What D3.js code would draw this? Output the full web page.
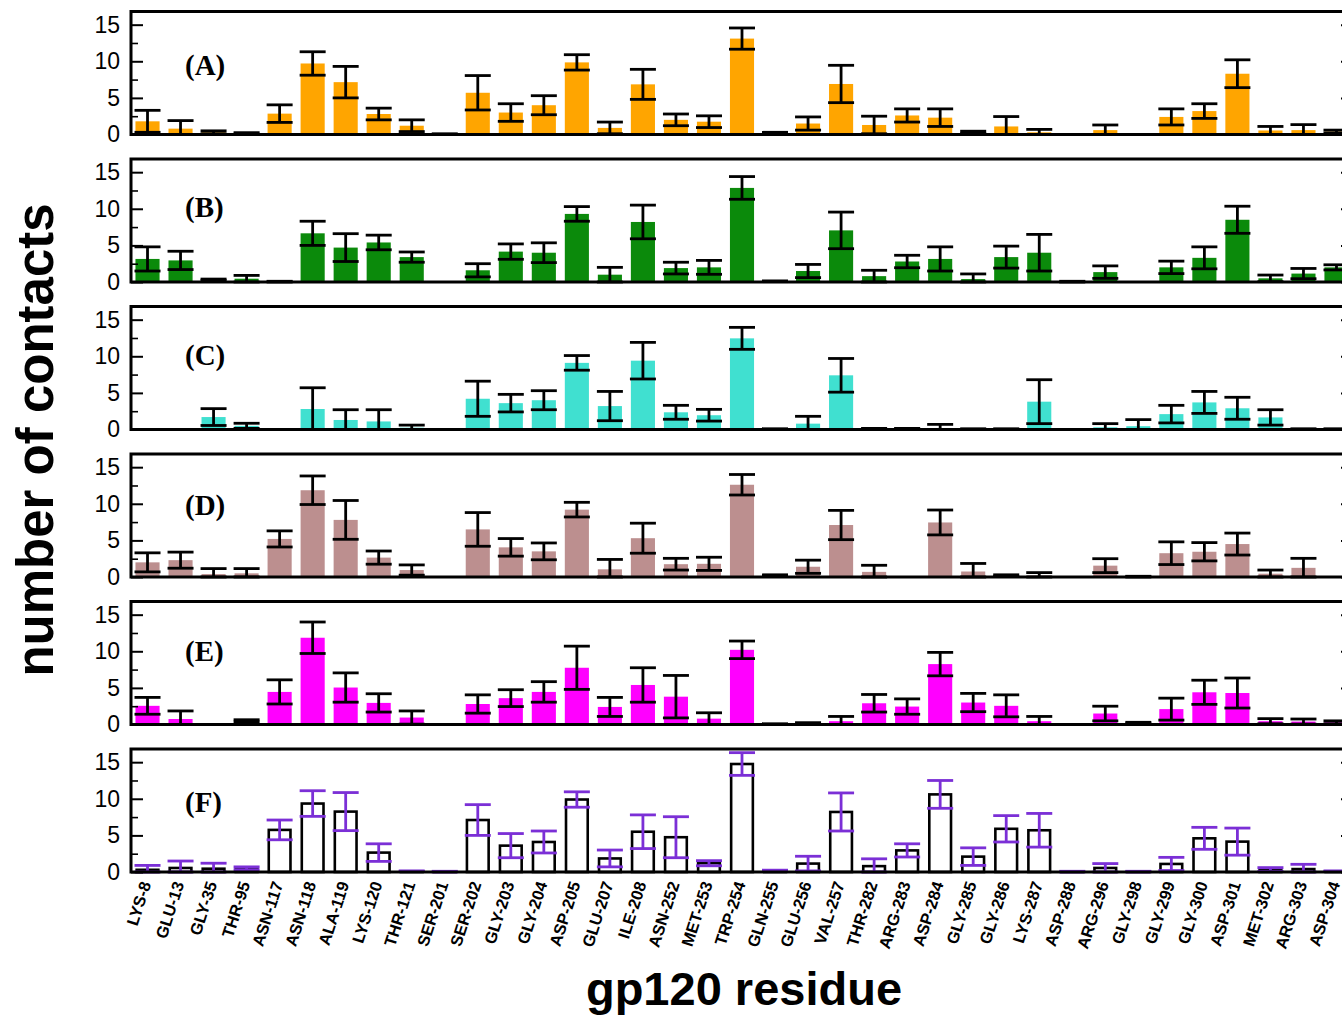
<!DOCTYPE html>
<html><head><meta charset="utf-8">
<script src="https://cdn.jsdelivr.net/npm/d3@7"></script>
<style>body{margin:0;background:#fff}svg{display:block}</style>
</head><body>
<svg id="c" width="1342" height="1018"></svg>
<script>
const residues = ["LYS-8","GLU-13","GLY-35","THR-95","ASN-117","ASN-118","ALA-119","LYS-120","THR-121","SER-201","SER-202","GLY-203","GLY-204","ASP-205","GLU-207","ILE-208","ASN-252","MET-253","TRP-254","GLN-255","GLU-256","VAL-257","THR-282","ARG-283","ASP-284","GLY-285","GLY-286","LYS-287","ASP-288","ARG-296","GLY-298","GLY-299","GLY-300","ASP-301","MET-302","ARG-303","ASP-304"];
const panelLabels = ["(A)","(B)","(C)","(D)","(E)","(F)"];
const yTicks = [0,5,10,15];
const yMinorTicks = [2.5,7.5,12.5];

const meanA = [1.8,0.8,0.3,0.15,2.85,9.7,7.15,2.8,1.2,0.05,5.7,3.0,4.0,9.85,0.9,6.85,2.0,1.75,13.1,0.2,1.5,6.9,1.3,2.6,2.3,0.3,1.1,0.3,0,0.6,0,2.4,3.2,8.3,0.55,0.6,0.4];
const errA  = [1.5,1.1,0.2,0.1,1.2,1.6,2.15,0.8,0.8,0.05,2.35,1.2,1.3,1.05,0.8,2.05,0.8,0.8,1.45,0.1,0.9,2.55,1.2,0.9,1.2,0.15,1.35,0.4,0,0.7,0,1.1,1.0,1.9,0.55,0.75,0.2];
const meanB = [3.15,2.95,0.3,0.45,0.05,6.65,4.7,5.4,3.4,0,1.6,4.15,4.0,9.3,1.0,8.2,1.9,2.0,12.85,0.1,1.5,7.05,0.8,2.8,3.15,0.4,3.4,4.0,0.05,1.35,0,2.0,3.3,8.5,0.5,1.15,2.0];
const errB  = [1.65,1.25,0.1,0.45,0.05,1.65,1.9,1.0,0.7,0,0.9,1.05,1.35,1.0,1.0,2.3,0.8,0.95,1.55,0.05,0.9,2.5,0.8,0.85,1.65,0.7,1.5,2.5,0.05,0.85,0,0.85,1.5,1.85,0.45,0.7,0.35];
const meanC = [0,0,1.7,0.5,0,2.8,1.3,1.1,0.25,0,4.2,3.6,4.0,9.1,3.2,9.4,2.35,1.95,12.45,0.05,0.8,7.4,0.1,0.1,0.2,0.05,0.05,3.8,0,0.3,0.45,2.1,3.7,2.9,1.65,0.05,0.05];
const errC  = [0,0,1.15,0.35,0,2.9,1.4,1.6,0.35,0,2.4,1.2,1.3,1.0,2.0,2.5,0.95,0.8,1.5,0.05,1.0,2.3,0.05,0.05,0.5,0.05,0.05,3.0,0,0.5,0.9,1.2,1.5,1.5,1.05,0.05,0.05];
const meanD = [2.0,2.3,0.4,0.5,5.2,11.85,7.8,2.65,0.95,0,6.5,4.05,3.5,9.2,1.05,5.3,1.75,1.8,12.6,0.2,1.4,7.1,0.7,0,7.45,0.75,0.2,0.2,0,1.55,0.05,3.25,3.45,4.5,0.45,1.25,0];
const errD  = [1.3,1.1,0.75,0.65,1.1,1.95,2.65,0.9,0.7,0,2.3,1.2,1.15,1.0,1.35,2.05,0.8,0.9,1.4,0.1,0.9,2.0,0.9,0,1.7,1.1,0.1,0.4,0,0.95,0.05,1.55,1.25,1.5,0.5,1.3,0];
const meanE = [2.55,0.75,0,0.5,4.45,11.85,5.05,2.95,0.95,0,2.8,3.6,4.45,7.75,2.4,5.4,3.8,0.8,10.2,0.05,0.15,0.45,2.9,2.45,8.25,3.0,2.55,0.45,0,1.5,0.2,2.1,4.4,4.3,0.45,0.4,0.3];
const errE  = [1.15,1.1,0,0.15,1.65,2.15,2.0,1.25,0.9,0,1.25,1.15,1.4,2.95,1.3,2.35,2.9,0.8,1.2,0.05,0.1,0.65,1.2,1.05,1.6,1.25,1.5,0.65,0,1.0,0.1,1.5,1.65,2.05,0.35,0.35,0.2];
const meanF = [0.3,0.55,0.45,0.5,5.75,9.35,8.25,2.65,0.1,0.05,7.1,3.6,4.1,9.9,1.85,5.5,4.75,1.2,14.75,0.15,1.15,8.2,0.8,2.95,10.6,2.1,5.9,5.7,0.05,0.55,0.05,1.1,4.6,4.15,0.35,0.4,0.1];
const errF  = [0.6,0.95,0.75,0.2,1.35,1.75,2.6,1.2,0.05,0.05,2.1,1.65,1.5,1.05,1.15,2.3,2.8,0.35,1.55,0.1,1.0,2.6,1.0,0.9,1.9,1.2,1.8,2.3,0.05,0.6,0.05,0.9,1.5,1.85,0.25,0.65,0.05];

const means = [meanA, meanB, meanC, meanD, meanE, meanF];
const errs  = [errA, errB, errC, errD, errE, errF];
const fills = ["#ffa500","#0b8a0b","#40e0d0","#bc8f8f","#ff00ff","#ffffff"];
const barStrokes = [null,null,null,null,null,"#000"];
const errColors = ["#000","#000","#000","#000","#000","#7b2fd6"];

const svg = d3.select("#c");
svg.append("rect").attr("width",1342).attr("height",1018).attr("fill","#fff");

const left = 131, right = 1353;
const x = d3.scaleBand().domain(residues).range([left, right]).paddingInner(0.27).paddingOuter(0.135);
const panelTop0 = 11.5, panelStep = 147.5, panelH = 123;
const labelOffsets = [63, 58, 58, 61, 59, 63];

means.forEach((vals, p) => {
  const top = panelTop0 + p*panelStep, bottom = top + panelH;
  const y = d3.scaleLinear().domain([0, 16.8]).range([bottom, top]);
  const g = svg.append("g");
  const data = residues.map((r,i)=>({r, m: vals[i], e: errs[p][i]}));

  g.selectAll("rect.bar").data(data).join("rect").attr("class","bar")
    .attr("x", d=>x(d.r) + (barStrokes[p]?1.2:0))
    .attr("width", x.bandwidth() - (barStrokes[p]?2.4:0))
    .attr("y", d=>y(d.m))
    .attr("height", d=>Math.max(0, y(0)-y(d.m)))
    .attr("fill", fills[p])
    .attr("stroke", barStrokes[p] || "none")
    .attr("stroke-width", barStrokes[p]?2.6:0);

  const eg = g.append("g").attr("stroke", errColors[p]).attr("stroke-width", 2.8).attr("fill","none");
  const capW = 13;
  data.filter(d=>d.e>0).forEach(d=>{
    const cx = x(d.r) + x.bandwidth()/2;
    const hi = y(d.m + d.e), lo = y(Math.max(0, d.m - d.e));
    eg.append("line").attr("x1",cx).attr("x2",cx).attr("y1",hi).attr("y2",lo);
    eg.append("line").attr("x1",cx-capW).attr("x2",cx+capW).attr("y1",hi).attr("y2",hi);
    eg.append("line").attr("x1",cx-capW).attr("x2",cx+capW).attr("y1",lo).attr("y2",lo);
  });

  const ax = d3.axisLeft(y).tickValues(yTicks).tickSize(-12).tickPadding(11).tickFormat(d3.format("d"));
  const ag = svg.append("g").attr("transform",`translate(${left},0)`).call(ax);
  ag.select(".domain").remove();
  ag.selectAll("line").attr("stroke-width",2);
  ag.selectAll("text").attr("font-family","Liberation Sans, Arial, sans-serif").attr("font-size",23).attr("fill","#000");
  const am = svg.append("g").attr("transform",`translate(${left},0)`)
    .call(d3.axisLeft(y).tickValues(yMinorTicks).tickSize(-7).tickFormat(""));
  am.select(".domain").remove(); am.selectAll("line").attr("stroke-width",1.6);
  const ar = svg.append("g").attr("transform",`translate(${right},0)`)
    .call(d3.axisRight(y).tickValues(yTicks).tickSize(-12).tickFormat(""));
  ar.select(".domain").remove(); ar.selectAll("line").attr("stroke-width",2);

  svg.append("rect").attr("x",left).attr("y",top).attr("width",right-left).attr("height",panelH)
    .attr("fill","none").attr("stroke","#000").attr("stroke-width",3);

  svg.append("text").attr("x",185).attr("y",top+labelOffsets[p])
    .attr("font-family","Liberation Serif, Times New Roman, serif").attr("font-weight","bold")
    .attr("font-size",29).attr("fill","#000").text(panelLabels[p]);

  if (p === 5) {
    const xa = svg.append("g").attr("transform",`translate(0,${bottom})`)
      .call(d3.axisBottom(x).tickSize(0).tickPadding(0));
    xa.select(".domain").remove();
    xa.selectAll("text")
      .attr("font-family","Liberation Sans, Arial, sans-serif").attr("font-weight","bold")
      .attr("font-size",16.5).attr("fill","#000")
      .attr("text-anchor","end").attr("dy","0.75em")
      .attr("transform", "translate(-8,8) rotate(-72)");
  }
});

svg.append("text").attr("transform","translate(53,440) rotate(-90)")
  .attr("text-anchor","middle").attr("font-family","Liberation Sans, Arial, sans-serif")
  .attr("font-weight","bold").attr("font-size",51).attr("fill","#000").text("number of contacts");
svg.append("text").attr("x",744).attr("y",1005)
  .attr("text-anchor","middle").attr("font-family","Liberation Sans, Arial, sans-serif")
  .attr("font-weight","bold").attr("font-size",47).attr("fill","#000").text("gp120 residue");
</script>
</body></html>
